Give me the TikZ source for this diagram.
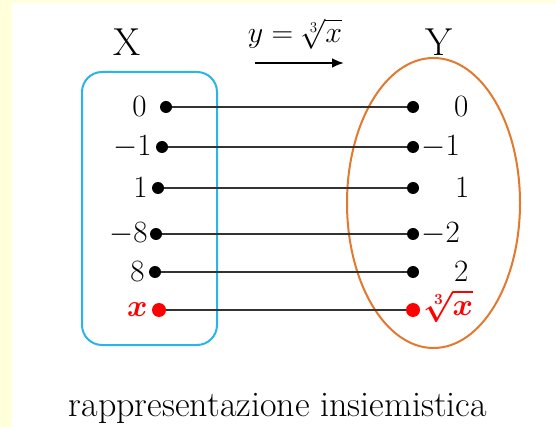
\RequirePackage{fix-cm}
\documentclass[tikz,border=0pt]{standalone}
\usepackage{amsmath}
\usepackage{amssymb}
\usepackage{xcolor}
\usetikzlibrary{positioning, arrows.meta, shapes.geometric}

\definecolor{bgyellow}{HTML}{FFFFDB}
\definecolor{setblue}{HTML}{29B5E8}
\definecolor{setorange}{HTML}{E2792F}
\definecolor{linegray}{HTML}{333333}

\begin{document}
\begin{tikzpicture}[
    x=1pt, y=-1pt,
    node distance=4pt,
    dot/.style={circle, fill=black, inner sep=0pt, minimum size=12pt},
    reddot/.style={dot, fill=red, minimum size=14pt},
    num/.style={inner sep=0pt, font=\fontsize{31}{37}\selectfont},
    rednum/.style={num, text=red, font=\fontsize{31}{37}\selectfont\boldmath},
    setname/.style={inner sep=0pt, font=\fontsize{39}{46}\selectfont},
    setx/.style={draw=setblue, line width=2pt, rounded corners=20pt, minimum width=135pt, minimum height=273pt},
    sety/.style={draw=setorange, line width=2pt, ellipse, inner sep=0pt, minimum width=173pt, minimum height=290pt},
    link/.style={draw=linegray, line width=2pt},
    arrow/.style={-{Latex[length=12pt, width=10pt]}, line width=2.6pt}
]
    \useasboundingbox (0,0) rectangle (556,427);
    \fill[bgyellow] (0,0) rectangle (556,427);
    \fill[white] (12,3) rectangle (556,427);

    % the two sets
    \node[setx] (setX) at (149.5,208.5) {};
    \node[sety] (setY) at (433.5,203) {};
    \node[setname] (nameX) at (127.5,42) {X};
    \node[setname] (nameY) at (439,42) {Y};

    % the function
    \node[inner sep=0pt, font=\fontsize{30}{36}\selectfont] (func) at (295,34) {$y=\sqrt[3]{x}$};
    \coordinate (fa) at (255,63);
    \coordinate (fb) at (344,63);
    \draw[arrow] (fa) -- (fb);

    % elements of X
    \node[dot] (l0) at (166,107) {};
    \node[dot] (l1) at (162,147) {};
    \node[dot] (l2) at (158,188) {};
    \node[dot] (l3) at (156,234) {};
    \node[dot] (l4) at (155,272) {};
    \node[reddot] (l5) at (159,310) {};
    \node[num, left=13pt of l0] (a0) {$0$};
    \node[num, left=of l1] (a1) {$-1$};
    \node[num, left=of l2] (a2) {$1$};
    \node[num, left=2pt of l3] (a3) {$-8$};
    \node[num, left=of l4] (a4) {$8$};
    \node[rednum, left=of l5] (a5) {$x$};

    % elements of Y
    \foreach \i/\yy in {0/107, 1/147, 2/188, 3/234, 4/272} {
        \node[dot] (r\i) at (413,\yy) {};
    }
    \node[reddot] (r5) at (413,310) {};
    \node[num, anchor=west] (b0) at (454,107) {$0$};
    \node[num, right=2pt of r1] (b1) {$-1$};
    \node[num, anchor=west] (b2) at (455,188) {$1$};
    \node[num, right=2pt of r3] (b3) {$-2$};
    \node[num, anchor=west] (b4) at (454,272) {$2$};
    \node[rednum, anchor=west] (b5) at (424,306) {$\sqrt[3]{x}$};

    % arrows of the function
    \foreach \i in {0,...,5} {
        \draw[link] (l\i) -- (r\i);
    }

    \node[inner sep=0pt, font=\fontsize{36}{43}\selectfont] (caption) at (278,408) {rappresentazione insiemistica};
\end{tikzpicture}
\end{document}
